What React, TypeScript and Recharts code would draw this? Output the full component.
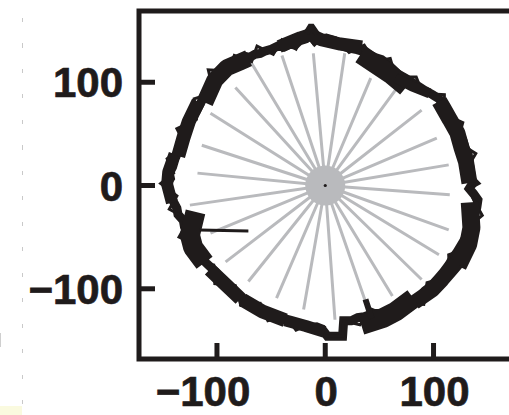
import React from 'react';
import { ComposedChart, Line, Scatter, XAxis, YAxis, ReferenceArea } from 'recharts';

// ---- axis ticks ----
const xTicks = [-100, 0, 100];
const yTicks = [-100, 0, 100];
const xDomain: [number, number] = [-172, 172];
const yDomain: [number, number] = [-168, 169];

// ---- grey spokes: end points (start at the origin) ----
const spokeEnds: [number, number][] = [
  [-11, 128], [-40, 126], [-69, 120], [-83, 95], [-106, 70], [-114, 39], [-118, 12],
  [-125, -19], [-106, -46], [-92, -74], [-71, -93], [-45, -109], [-20, -120],
  [9, -130], [38, -115], [62, -107], [89, -91], [105, -67], [114, -43], [115, -9],
  [114, 20], [103, 46], [89, 73], [68, 97], [42, 104], [18, 128],
];

// ---- black trajectory (main ring) ----
const ringPath: [number, number][] = [
  [0, 139], [-6, 143], [-10, 141], [-14, 147], [-18, 142], [-24, 140], [-28, 136], [-32, 137],
  [-38, 134], [-44, 135], [-50, 132], [-56, 130], [-60, 128], [-65, 127], [-70, 124], [-74, 125],
  [-80, 120], [-86, 119], [-92, 114], [-98, 110], [-102, 106], [-104, 100], [-107, 93], [-111, 88],
  [-115, 80], [-119, 72], [-123, 66], [-126, 59], [-129, 52], [-131, 46], [-134, 40], [-136, 33],
  [-139, 25], [-141, 18], [-144, 12], [-143, 7], [-146, 2], [-145, -4], [-142, -10], [-140, -16],
  [-137, -22], [-136, -28], [-131, -34], [-130, -40], [-127, -47], [-125, -53], [-122, -60],
  [-119, -65], [-114, -70], [-110, -75], [-106, -79], [-101, -84], [-97, -90], [-92, -96],
  [-86, -101], [-80, -107], [-74, -110], [-68, -115], [-62, -118], [-57, -121], [-50, -125],
  [-44, -127], [-38, -130], [-32, -132], [-26, -134], [-20, -135], [-14, -138], [-8, -137],
  [-3, -139], [2, -146], [16, -146], [17, -131], [24, -131], [30, -128], [36, -127], [44, -124],
  [52, -124], [60, -122], [68, -120], [74, -117], [80, -112], [86, -109], [92, -102], [98, -97],
  [104, -90], [109, -84], [114, -77], [118, -70], [122, -64], [126, -57], [130, -50], [134, -43],
  [136, -36], [138, -28], [140, -21], [141, -14], [137, -8], [133, -3], [136, 2], [135, 8],
  [134, 15], [133, 22], [132, 30], [129, 37], [127, 44], [124, 51], [121, 58], [117, 65],
  [113, 71], [109, 78], [105, 84], [99, 88], [92, 92], [86, 96], [80, 100], [74, 104], [67, 108],
  [62, 113], [57, 118], [52, 122], [46, 124], [40, 127], [34, 130], [28, 132], [22, 133],
  [16, 135], [10, 137], [5, 138], [0, 139],
];

// ---- zig-zag scribble across the ring band ----
const scribblePath: [number, number][] = [
  [0, 146], [-10, 136], [-19, 148], [-27, 132], [-40, 141], [-48, 127], [-63, 135], [-68, 120],
  [-84, 126], [-89, 111], [-108, 112], [-103, 90], [-121, 84], [-119, 64], [-137, 55], [-129, 39],
  [-146, 26], [-140, 12], [-152, 2], [-137, -10], [-144, -23], [-126, -33], [-135, -50],
  [-118, -58], [-120, -74], [-103, -77], [-102, -95], [-83, -97], [-78, -116], [-60, -114],
  [-53, -131], [-37, -126], [-27, -140], [-14, -134], [-3, -144], [2, -146], [16, -146],
  [17, -131], [32, -135], [43, -120], [64, -129], [71, -113], [91, -115], [94, -94], [115, -88],
  [114, -67], [133, -60], [130, -42], [145, -29], [137, -14], [133, -3], [142, 2], [130, 15],
  [139, 31], [122, 42], [127, 61], [110, 69], [110, 88], [90, 89], [84, 105], [65, 105],
  [60, 123], [45, 120], [36, 136], [22, 129], [10, 143], [0, 146],
];

// ---- dense clusters of the trajectory ----
const blobTop: [number, number][] = [[-37, 137], [-23, 143], [-14, 146], [-3, 141], [14, 137], [28, 135]];
const blobTopPeak: [number, number][] = [[-16, 150], [-13, 155], [-9, 149]];
const blobUpperRight: [number, number][] = [[40, 122], [50, 115], [60, 108], [68, 101]];
const blobUpperRight2: [number, number][] = [[69, 102], [80, 96], [92, 91]];
const blobRightUpper: [number, number][] = [[109, 75], [115, 64], [122, 51], [126, 36], [130, 23], [132, 10]];
const blobRightLower: [number, number][] = [[134, -25], [135, -41], [132, -57], [126, -70]];
const blobLowerRight: [number, number][] = [[117, -80], [108, -91], [99, -101], [88, -109]];
const blobBottomRight: [number, number][] = [[74, -115], [65, -122], [54, -128], [42, -132]];
const blobBottomSpike: [number, number][] = [[42, -126], [38, -113]];
const blobBottom: [number, number][] = [[-32, -132], [-18, -136], [-6, -140]];
const blobBottomLeft: [number, number][] = [[-71, -114], [-58, -122], [-43, -128]];
const blobLowerLeft: [number, number][] = [[-102, -86], [-92, -96], [-83, -105]];
const blobLeftLower: [number, number][] = [[-122, -35], [-125, -48], [-122, -60], [-117, -67]];
const blobLeftMid: [number, number][] = [[-141, 25], [-145, 13], [-146, 1], [-143, -11]];
const blobLeftUpper: [number, number][] = [[-120, 75], [-126, 62], [-131, 46], [-134, 35]];
const blobTopLeft: [number, number][] = [[-78, 120], [-91, 114], [-102, 102], [-108, 88]];
const leftSpike: [number, number][] = [[-116, -43], [-71, -44]];

const blobs: { data: [number, number][]; w: number }[] = [
  { data: blobTop, w: 13 },
  { data: blobTopPeak, w: 6 },
  { data: blobUpperRight, w: 19 },
  { data: blobUpperRight2, w: 10 },
  { data: blobRightUpper, w: 16 },
  { data: blobRightLower, w: 18 },
  { data: blobLowerRight, w: 15 },
  { data: blobBottomRight, w: 20 },
  { data: blobBottomSpike, w: 6 },
  { data: blobBottom, w: 12 },
  { data: blobBottomLeft, w: 14 },
  { data: blobLowerLeft, w: 14 },
  { data: blobLeftLower, w: 20 },
  { data: blobLeftMid, w: 12 },
  { data: blobLeftUpper, w: 14 },
  { data: blobTopLeft, w: 17 },
];

const centerPoint = [{ x: 0, y: 0 }];

const toPts = (arr: [number, number][]) => arr.map(([x, y]) => ({ x, y }));
const spokeData = spokeEnds.flatMap(([x, y]) => [{ x: 0, y: 0 }, { x, y }]);

const INK = '#1f1b1b';
const GREY = '#b9babd';
const FONT = '"Liberation Sans", Arial, sans-serif';

const BottomTick = (p: any) => {
  const { x, y, payload } = p;
  const v = payload.value as number;
  const label = v < 0 ? `\u2212${Math.abs(v)}` : `${v}`;
  return (
    <g>
      <line x1={x} y1={y} x2={x} y2={y - 16} stroke={INK} strokeWidth={5} />
      <text x={v < 0 ? x - 14 : x + 1} y={y + 47} textAnchor="middle" fontFamily={FONT} fontWeight="bold" fontSize={42} fill={INK} stroke={INK} strokeWidth={0.7}>
        {label}
      </text>
    </g>
  );
};

const LeftTick = (p: any) => {
  const { x, y, payload } = p;
  const v = payload.value as number;
  const label = v < 0 ? `\u2212${Math.abs(v)}` : `${v}`;
  return (
    <g>
      <line x1={x} y1={y} x2={x + 16} y2={y} stroke={INK} strokeWidth={5} />
      <text x={x - 16} y={y + 15} textAnchor="end" fontFamily={FONT} fontWeight="bold" fontSize={42} fill={INK} stroke={INK} strokeWidth={0.7}>
        {label}
      </text>
    </g>
  );
};

const TopTick = (p: any) => {
  const { x, y } = p;
  return <line x1={x} y1={y} x2={x} y2={y + 16} stroke={INK} strokeWidth={5} />;
};

const RightTick = (p: any) => {
  const { x, y } = p;
  return <line x1={x} y1={y} x2={x - 17} y2={y} stroke={INK} strokeWidth={5} />;
};

export default function App() {
  return (
    <div style={{ position: 'relative', width: 509, height: 415, overflow: 'hidden', background: '#fff' }}>
      <style>{`body{margin:0;}`}</style>
      {/* page artefacts on the left */}
      <div
        style={{
          position: 'absolute', left: 22, top: 18, width: 1, height: 392,
          background: 'repeating-linear-gradient(to bottom, #c9c9c9 0px, #c9c9c9 4px, transparent 4px, transparent 25.5px)',
        }}
      />
      <div style={{ position: 'absolute', left: 0, top: 333, width: 1, height: 14, background: '#cfcfcf' }} />
      <div style={{ position: 'absolute', left: 0, top: 406, width: 22, height: 9, background: '#fafadf' }} />
      <div style={{ position: 'absolute', left: 0, top: 0 }}>
        <ComposedChart width={530} height={415} margin={{ top: 11, right: 18.5, bottom: 0, left: 0 }}>
          <XAxis
            xAxisId={0}
            dataKey="x"
            type="number"
            domain={xDomain}
            ticks={xTicks}
            orientation="bottom"
            height={56}
            axisLine={false}
            tickLine={false}
            tickSize={0}
            tickMargin={0}
            tick={BottomTick}
            interval={0}
          />
          <XAxis
            xAxisId="top"
            dataKey="x"
            type="number"
            domain={xDomain}
            ticks={xTicks}
            orientation="top"
            height={0}
            axisLine={false}
            tickLine={false}
            tickSize={0}
            tickMargin={0}
            tick={TopTick}
            interval={0}
          />
          <YAxis
            yAxisId={0}
            type="number"
            domain={yDomain}
            ticks={yTicks}
            orientation="left"
            width={139}
            axisLine={false}
            tickLine={false}
            tickSize={0}
            tickMargin={0}
            tick={LeftTick}
            interval={0}
          />
          <YAxis
            yAxisId="right"
            type="number"
            domain={yDomain}
            ticks={yTicks}
            orientation="right"
            width={0}
            axisLine={false}
            tickLine={false}
            tickSize={0}
            tickMargin={0}
            tick={RightTick}
            interval={0}
          />
          <Line
            data={spokeData}
            dataKey="y"
            stroke={GREY}
            strokeWidth={3}
            dot={false}
            isAnimationActive={false}
            type="linear"
          />
          <Scatter
            data={centerPoint}
            dataKey="y"
            xAxisId="top"
            yAxisId="right"
            isAnimationActive={false}
            shape={(p: any) => (
              <g>
                <circle cx={p.cx} cy={p.cy} r={20} fill={GREY} />
                <circle cx={p.cx} cy={p.cy} r={1.6} fill={INK} />
              </g>
            )}
          />
          <Line
            data={toPts(ringPath)}
            dataKey="y"
            stroke={INK}
            strokeWidth={9}
            strokeLinejoin="miter"
            dot={false}
            isAnimationActive={false}
            type="linear"
          />
          <Line
            data={toPts(scribblePath)}
            dataKey="y"
            stroke={INK}
            strokeWidth={3}
            strokeLinejoin="miter"
            dot={false}
            isAnimationActive={false}
            type="linear"
          />
          {blobs.map((b, i) => (
            <Line
              key={i}
              data={toPts(b.data)}
              dataKey="y"
              stroke={INK}
              strokeWidth={b.w}
              strokeLinejoin="bevel"
              strokeLinecap="square"
              dot={false}
              isAnimationActive={false}
              type="linear"
            />
          ))}
          <Line
            data={toPts(leftSpike)}
            dataKey="y"
            stroke={INK}
            strokeWidth={3}
            dot={false}
            isAnimationActive={false}
            type="linear"
          />
          <ReferenceArea
            x1={xDomain[0]}
            x2={xDomain[1]}
            y1={yDomain[0]}
            y2={yDomain[1]}
            fill="none"
            fillOpacity={0}
            stroke={INK}
            strokeWidth={5}
            ifOverflow="visible"
          />
        </ComposedChart>
      </div>
    </div>
  );
}
